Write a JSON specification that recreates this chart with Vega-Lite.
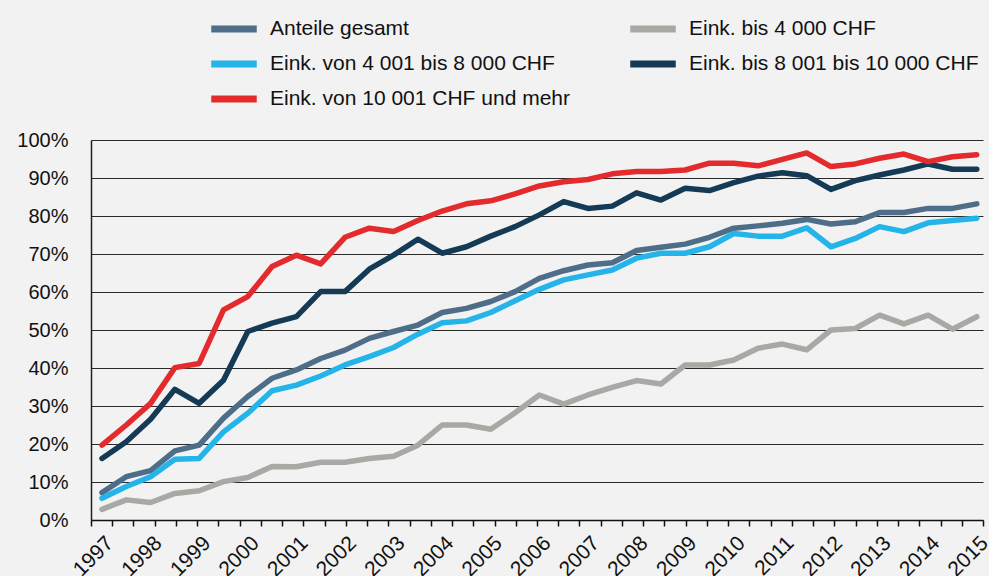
{
"$schema": "https://vega.github.io/schema/vega-lite/v6.json",
"width": 892, "height": 380,
"autosize": {"type": "none"},
"padding": {"left": 91, "top": 140, "right": 6, "bottom": 56},
"background": "#f2f2f2",
"config": {"view": {"stroke": null}, "font": "Liberation Sans"},
"data": {"values": [
{"Jahr":1997,"Gruppe":"Anteile gesamt","Anteil":7.2},{"Jahr":1997.5,"Gruppe":"Anteile gesamt","Anteil":11.4},{"Jahr":1998,"Gruppe":"Anteile gesamt","Anteil":13.0},{"Jahr":1998.5,"Gruppe":"Anteile gesamt","Anteil":18.2},{"Jahr":1999,"Gruppe":"Anteile gesamt","Anteil":19.7},{"Jahr":1999.5,"Gruppe":"Anteile gesamt","Anteil":26.8},{"Jahr":2000,"Gruppe":"Anteile gesamt","Anteil":32.5},{"Jahr":2000.5,"Gruppe":"Anteile gesamt","Anteil":37.3},{"Jahr":2001,"Gruppe":"Anteile gesamt","Anteil":39.5},{"Jahr":2001.5,"Gruppe":"Anteile gesamt","Anteil":42.5},{"Jahr":2002,"Gruppe":"Anteile gesamt","Anteil":44.7},{"Jahr":2002.5,"Gruppe":"Anteile gesamt","Anteil":47.8},{"Jahr":2003,"Gruppe":"Anteile gesamt","Anteil":49.6},{"Jahr":2003.5,"Gruppe":"Anteile gesamt","Anteil":51.3},{"Jahr":2004,"Gruppe":"Anteile gesamt","Anteil":54.6},{"Jahr":2004.5,"Gruppe":"Anteile gesamt","Anteil":55.7},{"Jahr":2005,"Gruppe":"Anteile gesamt","Anteil":57.5},{"Jahr":2005.5,"Gruppe":"Anteile gesamt","Anteil":60.1},{"Jahr":2006,"Gruppe":"Anteile gesamt","Anteil":63.6},{"Jahr":2006.5,"Gruppe":"Anteile gesamt","Anteil":65.6},{"Jahr":2007,"Gruppe":"Anteile gesamt","Anteil":67.1},{"Jahr":2007.5,"Gruppe":"Anteile gesamt","Anteil":67.7},{"Jahr":2008,"Gruppe":"Anteile gesamt","Anteil":70.9},{"Jahr":2008.5,"Gruppe":"Anteile gesamt","Anteil":71.8},{"Jahr":2009,"Gruppe":"Anteile gesamt","Anteil":72.6},{"Jahr":2009.5,"Gruppe":"Anteile gesamt","Anteil":74.4},{"Jahr":2010,"Gruppe":"Anteile gesamt","Anteil":76.8},{"Jahr":2010.5,"Gruppe":"Anteile gesamt","Anteil":77.4},{"Jahr":2011,"Gruppe":"Anteile gesamt","Anteil":78.1},{"Jahr":2011.5,"Gruppe":"Anteile gesamt","Anteil":79.1},{"Jahr":2012,"Gruppe":"Anteile gesamt","Anteil":77.9},{"Jahr":2012.5,"Gruppe":"Anteile gesamt","Anteil":78.5},{"Jahr":2013,"Gruppe":"Anteile gesamt","Anteil":80.9},{"Jahr":2013.5,"Gruppe":"Anteile gesamt","Anteil":80.9},{"Jahr":2014,"Gruppe":"Anteile gesamt","Anteil":82.0},{"Jahr":2014.5,"Gruppe":"Anteile gesamt","Anteil":82.0},{"Jahr":2015,"Gruppe":"Anteile gesamt","Anteil":83.2},
{"Jahr":1997,"Gruppe":"Eink. bis 4 000 CHF","Anteil":2.8},{"Jahr":1997.5,"Gruppe":"Eink. bis 4 000 CHF","Anteil":5.3},{"Jahr":1998,"Gruppe":"Eink. bis 4 000 CHF","Anteil":4.6},{"Jahr":1998.5,"Gruppe":"Eink. bis 4 000 CHF","Anteil":7.0},{"Jahr":1999,"Gruppe":"Eink. bis 4 000 CHF","Anteil":7.7},{"Jahr":1999.5,"Gruppe":"Eink. bis 4 000 CHF","Anteil":10.1},{"Jahr":2000,"Gruppe":"Eink. bis 4 000 CHF","Anteil":11.2},{"Jahr":2000.5,"Gruppe":"Eink. bis 4 000 CHF","Anteil":14.1},{"Jahr":2001,"Gruppe":"Eink. bis 4 000 CHF","Anteil":14.0},{"Jahr":2001.5,"Gruppe":"Eink. bis 4 000 CHF","Anteil":15.2},{"Jahr":2002,"Gruppe":"Eink. bis 4 000 CHF","Anteil":15.2},{"Jahr":2002.5,"Gruppe":"Eink. bis 4 000 CHF","Anteil":16.2},{"Jahr":2003,"Gruppe":"Eink. bis 4 000 CHF","Anteil":16.8},{"Jahr":2003.5,"Gruppe":"Eink. bis 4 000 CHF","Anteil":19.7},{"Jahr":2004,"Gruppe":"Eink. bis 4 000 CHF","Anteil":25.0},{"Jahr":2004.5,"Gruppe":"Eink. bis 4 000 CHF","Anteil":25.0},{"Jahr":2005,"Gruppe":"Eink. bis 4 000 CHF","Anteil":23.9},{"Jahr":2005.5,"Gruppe":"Eink. bis 4 000 CHF","Anteil":28.2},{"Jahr":2006,"Gruppe":"Eink. bis 4 000 CHF","Anteil":32.9},{"Jahr":2006.5,"Gruppe":"Eink. bis 4 000 CHF","Anteil":30.5},{"Jahr":2007,"Gruppe":"Eink. bis 4 000 CHF","Anteil":32.9},{"Jahr":2007.5,"Gruppe":"Eink. bis 4 000 CHF","Anteil":34.9},{"Jahr":2008,"Gruppe":"Eink. bis 4 000 CHF","Anteil":36.7},{"Jahr":2008.5,"Gruppe":"Eink. bis 4 000 CHF","Anteil":35.8},{"Jahr":2009,"Gruppe":"Eink. bis 4 000 CHF","Anteil":40.8},{"Jahr":2009.5,"Gruppe":"Eink. bis 4 000 CHF","Anteil":40.8},{"Jahr":2010,"Gruppe":"Eink. bis 4 000 CHF","Anteil":42.1},{"Jahr":2010.5,"Gruppe":"Eink. bis 4 000 CHF","Anteil":45.2},{"Jahr":2011,"Gruppe":"Eink. bis 4 000 CHF","Anteil":46.3},{"Jahr":2011.5,"Gruppe":"Eink. bis 4 000 CHF","Anteil":44.8},{"Jahr":2012,"Gruppe":"Eink. bis 4 000 CHF","Anteil":50.0},{"Jahr":2012.5,"Gruppe":"Eink. bis 4 000 CHF","Anteil":50.4},{"Jahr":2013,"Gruppe":"Eink. bis 4 000 CHF","Anteil":53.9},{"Jahr":2013.5,"Gruppe":"Eink. bis 4 000 CHF","Anteil":51.6},{"Jahr":2014,"Gruppe":"Eink. bis 4 000 CHF","Anteil":53.9},{"Jahr":2014.5,"Gruppe":"Eink. bis 4 000 CHF","Anteil":50.2},{"Jahr":2015,"Gruppe":"Eink. bis 4 000 CHF","Anteil":53.5},
{"Jahr":1997,"Gruppe":"Eink. von 4 001 bis 8 000 CHF","Anteil":5.7},{"Jahr":1997.5,"Gruppe":"Eink. von 4 001 bis 8 000 CHF","Anteil":8.8},{"Jahr":1998,"Gruppe":"Eink. von 4 001 bis 8 000 CHF","Anteil":11.4},{"Jahr":1998.5,"Gruppe":"Eink. von 4 001 bis 8 000 CHF","Anteil":16.0},{"Jahr":1999,"Gruppe":"Eink. von 4 001 bis 8 000 CHF","Anteil":16.2},{"Jahr":1999.5,"Gruppe":"Eink. von 4 001 bis 8 000 CHF","Anteil":23.2},{"Jahr":2000,"Gruppe":"Eink. von 4 001 bis 8 000 CHF","Anteil":28.1},{"Jahr":2000.5,"Gruppe":"Eink. von 4 001 bis 8 000 CHF","Anteil":34.0},{"Jahr":2001,"Gruppe":"Eink. von 4 001 bis 8 000 CHF","Anteil":35.5},{"Jahr":2001.5,"Gruppe":"Eink. von 4 001 bis 8 000 CHF","Anteil":37.9},{"Jahr":2002,"Gruppe":"Eink. von 4 001 bis 8 000 CHF","Anteil":40.8},{"Jahr":2002.5,"Gruppe":"Eink. von 4 001 bis 8 000 CHF","Anteil":43.0},{"Jahr":2003,"Gruppe":"Eink. von 4 001 bis 8 000 CHF","Anteil":45.4},{"Jahr":2003.5,"Gruppe":"Eink. von 4 001 bis 8 000 CHF","Anteil":48.9},{"Jahr":2004,"Gruppe":"Eink. von 4 001 bis 8 000 CHF","Anteil":51.9},{"Jahr":2004.5,"Gruppe":"Eink. von 4 001 bis 8 000 CHF","Anteil":52.4},{"Jahr":2005,"Gruppe":"Eink. von 4 001 bis 8 000 CHF","Anteil":54.6},{"Jahr":2005.5,"Gruppe":"Eink. von 4 001 bis 8 000 CHF","Anteil":57.7},{"Jahr":2006,"Gruppe":"Eink. von 4 001 bis 8 000 CHF","Anteil":60.7},{"Jahr":2006.5,"Gruppe":"Eink. von 4 001 bis 8 000 CHF","Anteil":63.2},{"Jahr":2007,"Gruppe":"Eink. von 4 001 bis 8 000 CHF","Anteil":64.5},{"Jahr":2007.5,"Gruppe":"Eink. von 4 001 bis 8 000 CHF","Anteil":65.8},{"Jahr":2008,"Gruppe":"Eink. von 4 001 bis 8 000 CHF","Anteil":68.9},{"Jahr":2008.5,"Gruppe":"Eink. von 4 001 bis 8 000 CHF","Anteil":70.2},{"Jahr":2009,"Gruppe":"Eink. von 4 001 bis 8 000 CHF","Anteil":70.2},{"Jahr":2009.5,"Gruppe":"Eink. von 4 001 bis 8 000 CHF","Anteil":71.9},{"Jahr":2010,"Gruppe":"Eink. von 4 001 bis 8 000 CHF","Anteil":75.4},{"Jahr":2010.5,"Gruppe":"Eink. von 4 001 bis 8 000 CHF","Anteil":74.7},{"Jahr":2011,"Gruppe":"Eink. von 4 001 bis 8 000 CHF","Anteil":74.7},{"Jahr":2011.5,"Gruppe":"Eink. von 4 001 bis 8 000 CHF","Anteil":76.9},{"Jahr":2012,"Gruppe":"Eink. von 4 001 bis 8 000 CHF","Anteil":71.9},{"Jahr":2012.5,"Gruppe":"Eink. von 4 001 bis 8 000 CHF","Anteil":74.1},{"Jahr":2013,"Gruppe":"Eink. von 4 001 bis 8 000 CHF","Anteil":77.2},{"Jahr":2013.5,"Gruppe":"Eink. von 4 001 bis 8 000 CHF","Anteil":75.9},{"Jahr":2014,"Gruppe":"Eink. von 4 001 bis 8 000 CHF","Anteil":78.2},{"Jahr":2014.5,"Gruppe":"Eink. von 4 001 bis 8 000 CHF","Anteil":78.8},{"Jahr":2015,"Gruppe":"Eink. von 4 001 bis 8 000 CHF","Anteil":79.4},
{"Jahr":1997,"Gruppe":"Eink. bis 8 001 bis 10 000 CHF","Anteil":16.2},{"Jahr":1997.5,"Gruppe":"Eink. bis 8 001 bis 10 000 CHF","Anteil":20.6},{"Jahr":1998,"Gruppe":"Eink. bis 8 001 bis 10 000 CHF","Anteil":26.5},{"Jahr":1998.5,"Gruppe":"Eink. bis 8 001 bis 10 000 CHF","Anteil":34.4},{"Jahr":1999,"Gruppe":"Eink. bis 8 001 bis 10 000 CHF","Anteil":30.7},{"Jahr":1999.5,"Gruppe":"Eink. bis 8 001 bis 10 000 CHF","Anteil":36.8},{"Jahr":2000,"Gruppe":"Eink. bis 8 001 bis 10 000 CHF","Anteil":49.6},{"Jahr":2000.5,"Gruppe":"Eink. bis 8 001 bis 10 000 CHF","Anteil":51.8},{"Jahr":2001,"Gruppe":"Eink. bis 8 001 bis 10 000 CHF","Anteil":53.5},{"Jahr":2001.5,"Gruppe":"Eink. bis 8 001 bis 10 000 CHF","Anteil":60.1},{"Jahr":2002,"Gruppe":"Eink. bis 8 001 bis 10 000 CHF","Anteil":60.1},{"Jahr":2002.5,"Gruppe":"Eink. bis 8 001 bis 10 000 CHF","Anteil":66.0},{"Jahr":2003,"Gruppe":"Eink. bis 8 001 bis 10 000 CHF","Anteil":69.7},{"Jahr":2003.5,"Gruppe":"Eink. bis 8 001 bis 10 000 CHF","Anteil":73.9},{"Jahr":2004,"Gruppe":"Eink. bis 8 001 bis 10 000 CHF","Anteil":70.2},{"Jahr":2004.5,"Gruppe":"Eink. bis 8 001 bis 10 000 CHF","Anteil":71.9},{"Jahr":2005,"Gruppe":"Eink. bis 8 001 bis 10 000 CHF","Anteil":74.7},{"Jahr":2005.5,"Gruppe":"Eink. bis 8 001 bis 10 000 CHF","Anteil":77.2},{"Jahr":2006,"Gruppe":"Eink. bis 8 001 bis 10 000 CHF","Anteil":80.3},{"Jahr":2006.5,"Gruppe":"Eink. bis 8 001 bis 10 000 CHF","Anteil":83.8},{"Jahr":2007,"Gruppe":"Eink. bis 8 001 bis 10 000 CHF","Anteil":82.0},{"Jahr":2007.5,"Gruppe":"Eink. bis 8 001 bis 10 000 CHF","Anteil":82.6},{"Jahr":2008,"Gruppe":"Eink. bis 8 001 bis 10 000 CHF","Anteil":86.1},{"Jahr":2008.5,"Gruppe":"Eink. bis 8 001 bis 10 000 CHF","Anteil":84.2},{"Jahr":2009,"Gruppe":"Eink. bis 8 001 bis 10 000 CHF","Anteil":87.3},{"Jahr":2009.5,"Gruppe":"Eink. bis 8 001 bis 10 000 CHF","Anteil":86.7},{"Jahr":2010,"Gruppe":"Eink. bis 8 001 bis 10 000 CHF","Anteil":88.8},{"Jahr":2010.5,"Gruppe":"Eink. bis 8 001 bis 10 000 CHF","Anteil":90.5},{"Jahr":2011,"Gruppe":"Eink. bis 8 001 bis 10 000 CHF","Anteil":91.4},{"Jahr":2011.5,"Gruppe":"Eink. bis 8 001 bis 10 000 CHF","Anteil":90.6},{"Jahr":2012,"Gruppe":"Eink. bis 8 001 bis 10 000 CHF","Anteil":87.0},{"Jahr":2012.5,"Gruppe":"Eink. bis 8 001 bis 10 000 CHF","Anteil":89.3},{"Jahr":2013,"Gruppe":"Eink. bis 8 001 bis 10 000 CHF","Anteil":90.8},{"Jahr":2013.5,"Gruppe":"Eink. bis 8 001 bis 10 000 CHF","Anteil":92.1},{"Jahr":2014,"Gruppe":"Eink. bis 8 001 bis 10 000 CHF","Anteil":93.7},{"Jahr":2014.5,"Gruppe":"Eink. bis 8 001 bis 10 000 CHF","Anteil":92.3},{"Jahr":2015,"Gruppe":"Eink. bis 8 001 bis 10 000 CHF","Anteil":92.3},
{"Jahr":1997,"Gruppe":"Eink. von 10 001 CHF und mehr","Anteil":19.7},{"Jahr":1997.5,"Gruppe":"Eink. von 10 001 CHF und mehr","Anteil":25.0},{"Jahr":1998,"Gruppe":"Eink. von 10 001 CHF und mehr","Anteil":30.7},{"Jahr":1998.5,"Gruppe":"Eink. von 10 001 CHF und mehr","Anteil":40.1},{"Jahr":1999,"Gruppe":"Eink. von 10 001 CHF und mehr","Anteil":41.2},{"Jahr":1999.5,"Gruppe":"Eink. von 10 001 CHF und mehr","Anteil":55.3},{"Jahr":2000,"Gruppe":"Eink. von 10 001 CHF und mehr","Anteil":58.8},{"Jahr":2000.5,"Gruppe":"Eink. von 10 001 CHF und mehr","Anteil":66.7},{"Jahr":2001,"Gruppe":"Eink. von 10 001 CHF und mehr","Anteil":69.7},{"Jahr":2001.5,"Gruppe":"Eink. von 10 001 CHF und mehr","Anteil":67.4},{"Jahr":2002,"Gruppe":"Eink. von 10 001 CHF und mehr","Anteil":74.4},{"Jahr":2002.5,"Gruppe":"Eink. von 10 001 CHF und mehr","Anteil":76.8},{"Jahr":2003,"Gruppe":"Eink. von 10 001 CHF und mehr","Anteil":75.9},{"Jahr":2003.5,"Gruppe":"Eink. von 10 001 CHF und mehr","Anteil":78.8},{"Jahr":2004,"Gruppe":"Eink. von 10 001 CHF und mehr","Anteil":81.3},{"Jahr":2004.5,"Gruppe":"Eink. von 10 001 CHF und mehr","Anteil":83.2},{"Jahr":2005,"Gruppe":"Eink. von 10 001 CHF und mehr","Anteil":84.0},{"Jahr":2005.5,"Gruppe":"Eink. von 10 001 CHF und mehr","Anteil":85.8},{"Jahr":2006,"Gruppe":"Eink. von 10 001 CHF und mehr","Anteil":87.9},{"Jahr":2006.5,"Gruppe":"Eink. von 10 001 CHF und mehr","Anteil":89.0},{"Jahr":2007,"Gruppe":"Eink. von 10 001 CHF und mehr","Anteil":89.6},{"Jahr":2007.5,"Gruppe":"Eink. von 10 001 CHF und mehr","Anteil":91.1},{"Jahr":2008,"Gruppe":"Eink. von 10 001 CHF und mehr","Anteil":91.7},{"Jahr":2008.5,"Gruppe":"Eink. von 10 001 CHF und mehr","Anteil":91.7},{"Jahr":2009,"Gruppe":"Eink. von 10 001 CHF und mehr","Anteil":92.1},{"Jahr":2009.5,"Gruppe":"Eink. von 10 001 CHF und mehr","Anteil":93.9},{"Jahr":2010,"Gruppe":"Eink. von 10 001 CHF und mehr","Anteil":93.9},{"Jahr":2010.5,"Gruppe":"Eink. von 10 001 CHF und mehr","Anteil":93.2},{"Jahr":2011,"Gruppe":"Eink. von 10 001 CHF und mehr","Anteil":94.9},{"Jahr":2011.5,"Gruppe":"Eink. von 10 001 CHF und mehr","Anteil":96.6},{"Jahr":2012,"Gruppe":"Eink. von 10 001 CHF und mehr","Anteil":93.0},{"Jahr":2012.5,"Gruppe":"Eink. von 10 001 CHF und mehr","Anteil":93.7},{"Jahr":2013,"Gruppe":"Eink. von 10 001 CHF und mehr","Anteil":95.2},{"Jahr":2013.5,"Gruppe":"Eink. von 10 001 CHF und mehr","Anteil":96.3},{"Jahr":2014,"Gruppe":"Eink. von 10 001 CHF und mehr","Anteil":94.3},{"Jahr":2014.5,"Gruppe":"Eink. von 10 001 CHF und mehr","Anteil":95.6},{"Jahr":2015,"Gruppe":"Eink. von 10 001 CHF und mehr","Anteil":96.1}
]},
"mark": {"type": "line", "strokeWidth": 5.5, "strokeCap": "round", "strokeJoin": "round"},
"encoding": {
  "x": {"field": "Jahr", "type": "quantitative",
    "scale": {"domain": [1996.774, 2015.128], "nice": false, "zero": false},
    "axis": {"title": null, "grid": false,
      "values": [1996.774,1997,1997.211,1997.648,1998,1998.085,1998.522,1998.959,1999,1999.396,1999.833,2000,2000.27,2000.707,2001,2001.144,2001.581,2002,2002.018,2002.455,2002.892,2003,2003.329,2003.766,2004,2004.203,2004.64,2005,2005.077,2005.514,2005.951,2006,2006.388,2006.825,2007,2007.262,2007.699,2008,2008.136,2008.573,2009,2009.01,2009.447,2009.884,2010,2010.321,2010.758,2011,2011.195,2011.632,2012,2012.069,2012.506,2012.943,2013,2013.38,2013.817,2014,2014.254,2014.691,2015,2015.128],
      "domainColor": "#111111", "domainWidth": 1.5,
      "tickColor": "#111111", "tickWidth": 1.5, "tickSize": 6,
      "tickOpacity": {"expr": "datum.value % 1 === 0 ? 0 : 1"},
      "labelExpr": "datum.value % 1 === 0 ? format(datum.value, 'd') : ''",
      "labelAngle": -45, "labelAlign": "right", "labelBaseline": "top",
      "labelFont": "Liberation Sans", "labelFontSize": 21, "labelColor": "#111111",
      "labelPadding": 6, "labelOffset": 0, "labelOverlap": false, "labelFlush": false, "labelBound": false}},
  "y": {"field": "Anteil", "type": "quantitative",
    "scale": {"domain": [0, 100], "nice": false, "zero": true},
    "axis": {"title": null, "values": [0,10,20,30,40,50,60,70,80,90,100], "ticks": false,
      "domainColor": "#222222", "domainWidth": 1.5,
      "gridColor": "#2a2a2a", "gridWidth": 1.2, "gridOpacity": 1,
      "labelExpr": "datum.value + '%'", "labelFont": "Liberation Sans", "labelFontSize": 20,
      "labelColor": "#111111", "labelPadding": 23}},
  "color": {"field": "Gruppe", "type": "nominal",
    "scale": {"domain": ["Anteile gesamt", "Eink. bis 4 000 CHF", "Eink. von 4 001 bis 8 000 CHF", "Eink. bis 8 001 bis 10 000 CHF", "Eink. von 10 001 CHF und mehr"],
      "range": ["#4e6d89", "#a8a9a4", "#25b4e9", "#143a55", "#e32b2e"]},
    "legend": {"title": null, "orient": "none", "legendX": 122, "legendY": -132, "columns": 2, "direction": "horizontal",
      "symbolType": "M-1.3,0H1.3", "symbolSize": 1225, "symbolStrokeWidth": 7,
      "labelFont": "Liberation Sans", "labelFontSize": 21, "labelColor": "#111111", "labelLimit": 500,
      "labelOffset": 15, "rowPadding": 0, "columnPadding": 46}}
}
}
